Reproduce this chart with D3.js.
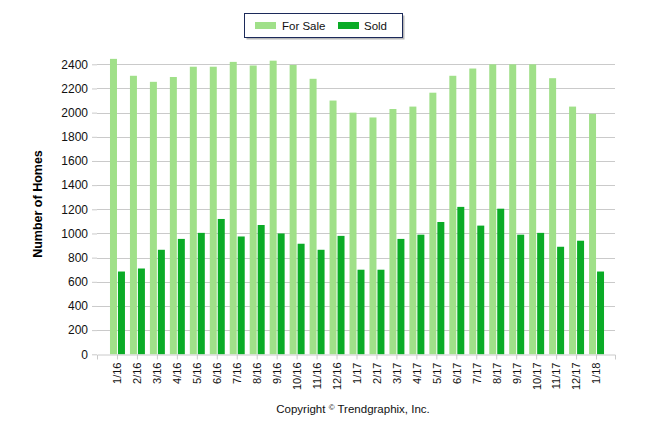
<!DOCTYPE html>
<html>
<head>
<meta charset="utf-8">
<script src="https://cdn.jsdelivr.net/npm/d3@7"></script>
<style>
  body { margin: 0; background: #fff; }
  text { font-family: Arial, "Liberation Sans", sans-serif; }
</style>
</head>
<body>
<svg id="chart"></svg>
<script>
// chart data
const months = ["1/16","2/16","3/16","4/16","5/16","6/16","7/16","8/16","9/16","10/16","11/16","12/16",
  "1/17","2/17","3/17","4/17","5/17","6/17","7/17","8/17","9/17","10/17","11/17","12/17","1/18"];
const forSale = [2445,2305,2255,2295,2380,2380,2420,2390,2430,2395,2280,2100,
  2000,1960,2030,2050,2165,2305,2365,2400,2400,2400,2285,2050,1990];
const sold = [685,710,865,955,1005,1120,975,1070,1000,915,865,980,
  700,700,955,990,1095,1220,1065,1205,990,1005,890,940,685];
const seriesNames = ["For Sale", "Sold"];
const yTicks = [0,200,400,600,800,1000,1200,1400,1600,1800,2000,2200,2400];

const colors = {"For Sale": "#a0e089", "Sold": "#0aab26"};
const gridColor = "#cacaca";

const W = 646, H = 434;
const plot = {left: 97, right: 615, top: 64.3, bottom: 354.3};

const svg = d3.select("#chart").attr("width", W).attr("height", H);

const x = d3.scaleBand()
  .domain(months)
  .range([plot.left, plot.right])
  .paddingInner(0)
  .paddingOuter(0.475)
  .align(0.553);

const xSub = d3.scaleBand()
  .domain(seriesNames)
  .range([0, x.bandwidth()])
  .paddingInner(0.125)
  .paddingOuter(0.3125);

const y = d3.scaleLinear()
  .domain([0, 2400])
  .range([plot.bottom, plot.top]);

// grid
svg.append("g")
  .selectAll("line")
  .data(yTicks.filter(d => d > 0))
  .join("line")
  .attr("x1", plot.left).attr("x2", plot.right)
  .attr("y1", d => Math.round(y(d)) + 0.5).attr("y2", d => Math.round(y(d)) + 0.5)
  .attr("stroke", gridColor);

// y axis (ticks + labels only)
const yAxisG = svg.append("g")
  .attr("transform", `translate(${plot.left},0)`)
  .call(d3.axisLeft(y).tickValues(yTicks).tickFormat(d3.format("d")).tickSize(5).tickPadding(4));
yAxisG.select(".domain").remove();
yAxisG.selectAll(".tick line").attr("stroke", gridColor);
yAxisG.selectAll(".tick text")
  .attr("fill", "#111")
  .style("font-size", "12px");

// bars
const rows = months.map((m, i) => ({month: m, "For Sale": forSale[i], "Sold": sold[i]}));

svg.append("g")
  .selectAll("g")
  .data(rows)
  .join("g")
  .attr("transform", d => `translate(${x(d.month)},0)`)
  .selectAll("rect")
  .data(d => seriesNames.map(k => ({key: k, value: d[k]})))
  .join("rect")
  .attr("x", d => xSub(d.key))
  .attr("width", xSub.bandwidth())
  .attr("y", d => y(d.value))
  .attr("height", d => y(0) - y(d.value))
  .attr("fill", d => colors[d.key]);

// x axis
const xAxisG = svg.append("g")
  .attr("transform", `translate(0,${Math.round(plot.bottom) + 0.5})`)
  .call(d3.axisBottom(x).tickSize(5).tickSizeOuter(5).tickPadding(3));
xAxisG.select(".domain").attr("stroke", gridColor);
xAxisG.selectAll(".tick line").attr("stroke", gridColor);
xAxisG.selectAll(".tick text")
  .attr("transform", "rotate(-90)")
  .attr("text-anchor", "end")
  .attr("x", -8)
  .attr("y", 0)
  .attr("dy", "0.35em")
  .attr("fill", "#111")
  .style("font-size", "11px");

// y axis title
svg.append("text")
  .attr("transform", `translate(42,204) rotate(-90)`)
  .attr("text-anchor", "middle")
  .style("font-size", "12.5px")
  .style("font-weight", "bold")
  .attr("fill", "#000")
  .text("Number of Homes");

// legend
const legend = svg.append("g");
legend.append("rect")
  .attr("x", 246.5).attr("y", 15.5).attr("width", 158).attr("height", 24)
  .attr("fill", "#b8b8b8");
legend.append("rect")
  .attr("x", 244.5).attr("y", 13.5).attr("width", 158).attr("height", 24)
  .attr("fill", "#fff").attr("stroke", "#1c2a5a");

const legendItems = [
  {key: "For Sale", sx: 255, tx: 282},
  {key: "Sold", sx: 338, tx: 364}
];
legend.selectAll("rect.sw")
  .data(legendItems)
  .join("rect")
  .attr("class", "sw")
  .attr("x", d => d.sx).attr("y", 22)
  .attr("width", 21).attr("height", 7)
  .attr("fill", d => colors[d.key]);
legend.selectAll("text")
  .data(legendItems)
  .join("text")
  .attr("x", d => d.tx).attr("y", 30)
  .style("font-size", "11.5px")
  .attr("fill", "#111")
  .text(d => d.key);

// copyright
const copy = svg.append("text")
  .attr("x", 353).attr("y", 413)
  .attr("text-anchor", "middle")
  .style("font-size", "11.5px")
  .attr("fill", "#111");
copy.append("tspan").text("Copyright ");
copy.append("tspan").attr("dy", -3).style("font-size", "8px").text("©");
copy.append("tspan").attr("dy", 3).text(" Trendgraphix, Inc.");
</script>
</body>
</html>
